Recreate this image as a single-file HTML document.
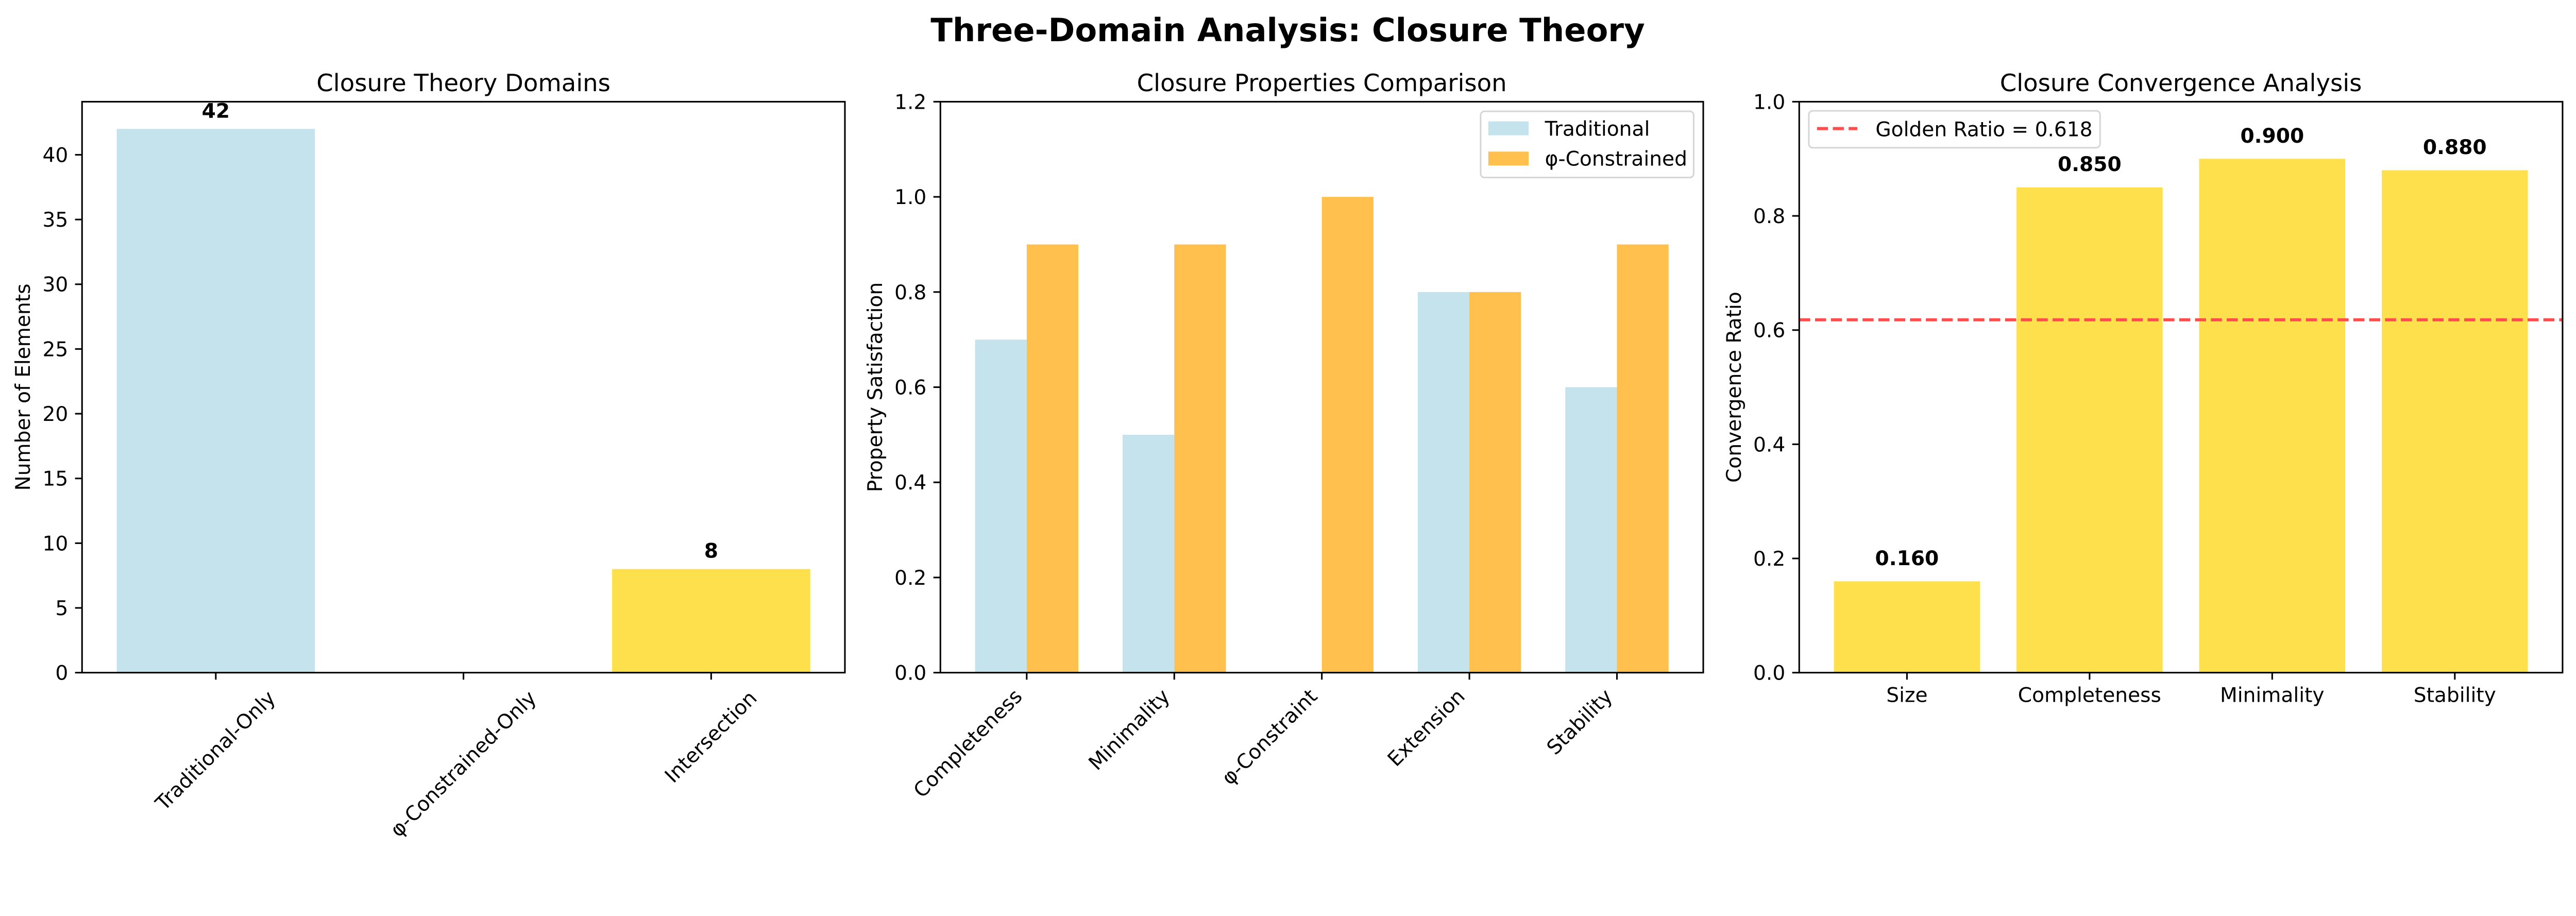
<!DOCTYPE html>
<html><head><meta charset="utf-8"><style>
html,body{margin:0;padding:0;background:#fff;overflow:hidden;}
svg{display:block;font-family:"DejaVu Sans","Liberation Sans",sans-serif;width:100vw;height:auto;aspect-ratio:5369/1778;}
</style></head><body>
<svg id="fig" viewBox="0 0 5369 1778" xmlns="http://www.w3.org/2000/svg">
<rect width="5369" height="1778" fill="#fff"/>
<text x="2684" y="86" font-size="67" font-weight="bold" text-anchor="middle">Three-Domain Analysis: Closure Theory</text>
<g id="p1"></g>
<g id="p2"></g>
<g id="p3"></g>
</svg>
<script>
// Panel 1 data
const domainCategories = ["Traditional-Only", "φ-Constrained-Only", "Intersection"];
const domainCounts = [42, 0, 8];
const domainTicks = [0, 5, 10, 15, 20, 25, 30, 35, 40];
// Panel 2 data
const propCategories = ["Completeness", "Minimality", "φ-Constraint", "Extension", "Stability"];
const traditionalValues = [0.7, 0.5, 0.0, 0.8, 0.6];
const phiValues = [0.9, 0.9, 1.0, 0.8, 0.9];
const propTicks = [0, 0.2, 0.4, 0.6, 0.8, 1.0, 1.2];
// Panel 3 data
const convCategories = ["Size", "Completeness", "Minimality", "Stability"];
const convValues = [0.16, 0.85, 0.90, 0.88];
const convTicks = [0, 0.2, 0.4, 0.6, 0.8, 1.0];
const goldenRatio = 0.618;

const NS = "http://www.w3.org/2000/svg";
const TOP = 212, BOT = 1402, FS = 42;
function mk(parent, tag, attrs, text) {
  const e = document.createElementNS(NS, tag);
  for (const k in attrs) e.setAttribute(k, attrs[k]);
  if (text !== undefined) e.textContent = text;
  parent.appendChild(e);
  return e;
}
function axes(g, L, R, ymax, ticks, fmt, title, ylabel, ylabX, xmin, xmax) {
  const sx = v => L + (v - xmin) / (xmax - xmin) * (R - L);
  const sy = v => BOT - v / ymax * (BOT - TOP);
  const t = mk(g, "text", {x: (L + R) / 2, y: 190, "font-size": 50, "text-anchor": "middle"}, title);
  
  
  const yl = mk(g, "text", {x: ylabX, y: (TOP + BOT) / 2, "font-size": FS, "text-anchor": "middle", "dominant-baseline": "central", transform: `rotate(-90 ${ylabX} ${(TOP + BOT) / 2})`}, ylabel);
  
  
  ticks.forEach(v => {
    const y = sy(v);
    const tk = mk(g, "line", {x1: L - 14.6, x2: L, y1: y, y2: y, stroke: "#000", "stroke-width": 3.3});
    
    
    const tl = mk(g, "text", {x: L - 29, y: y + 15, "font-size": FS, "text-anchor": "end"}, fmt(v));
    
    
  });
  return {sx, sy};
}
function frame(g, L, R) {
  const f = mk(g, "rect", {x: L, y: TOP, width: R - L, height: BOT - TOP, fill: "none", stroke: "#000", "stroke-width": 3.3});
  
  
}
function xtick(g, x) {
  const tk = mk(g, "line", {x1: x, x2: x, y1: BOT, y2: BOT + 14.6, stroke: "#000", "stroke-width": 3.3});
  
  
}

// ---------- Panel 1 ----------
(function () {
  const g = document.getElementById("p1");
  const L = 171, R = 1761;
  const {sx, sy} = axes(g, L, R, 44.1, domainTicks, v => String(v), "Closure Theory Domains", "Number of Elements", 49, -0.54, 2.54);
  const colors = ["#C5E3EC", "#FFC04D", "#FEE04C"];
  domainCategories.forEach((c, i) => {
    const v = domainCounts[i];
    const b = mk(g, "rect", {x: sx(i - 0.4), y: sy(v), width: sx(i + 0.4) - sx(i - 0.4), height: BOT - sy(v), fill: colors[i]});
    
    
    if (v > 0) {
      const vl = mk(g, "text", {x: sx(i), y: sy(v + 0.5) - 10, "font-size": FS, "font-weight": "bold", "text-anchor": "middle"}, String(v));
      
      
    }
    xtick(g, sx(i));
    const lab = mk(g, "text", {"font-size": FS, "text-anchor": "middle", "dominant-baseline": "central"}, c);
    
    
    const len = lab.getComputedTextLength();
    const H = (len + 48) * 0.7071;
    const cx = sx(i), cy = BOT + 29 + H / 2;
    lab.setAttribute("x", cx); lab.setAttribute("y", cy);
    lab.setAttribute("transform", `rotate(-45 ${cx} ${cy})`);
  });
  frame(g, L, R);
})();

// ---------- Panel 2 ----------
(function () {
  const g = document.getElementById("p2");
  const L = 1960, R = 3550, w = 0.35;
  const {sx, sy} = axes(g, L, R, 1.2, propTicks, v => v.toFixed(1), "Closure Properties Comparison", "Property Satisfaction", 1825, -0.585, 4.585);
  propCategories.forEach((c, i) => {
    const a = traditionalValues[i], p = phiValues[i];
    const b1 = mk(g, "rect", {x: sx(i - w), y: sy(a), width: sx(i) - sx(i - w), height: BOT - sy(a), fill: "#C5E3EC"});
    
    
    const b2 = mk(g, "rect", {x: sx(i), y: sy(p), width: sx(i + w) - sx(i), height: BOT - sy(p), fill: "#FFC04D"});
    
    
    xtick(g, sx(i));
    const ax = sx(i) - 7, ay = BOT + 52;
    const lab = mk(g, "text", {x: ax, y: ay, "font-size": FS, "text-anchor": "end", transform: `rotate(-45 ${ax} ${ay})`}, c);
    
    
  });
  frame(g, L, R);
  const lg = mk(g, "g", {});
  
  
  mk(lg, "rect", {x: 3086, y: 232, width: 444, height: 138, rx: 8, fill: "#fff", stroke: "#d6d6d6", "stroke-width": 3.3});
  const e1 = mk(lg, "rect", {x: 3102, y: 253, width: 84, height: 29, fill: "#C5E3EC"});
  
  
  mk(lg, "text", {x: 3220, y: 283, "font-size": FS}, "Traditional");
  const e2 = mk(lg, "rect", {x: 3102, y: 316, width: 84, height: 29, fill: "#FFC04D"});
  
  
  mk(lg, "text", {x: 3220, y: 345, "font-size": FS}, "φ-Constrained");
})();

// ---------- Panel 3 ----------
(function () {
  const g = document.getElementById("p3");
  const L = 3750, R = 5341;
  const {sx, sy} = axes(g, L, R, 1.0, convTicks, v => v.toFixed(1), "Closure Convergence Analysis", "Convergence Ratio", 3615, -0.59, 3.59);
  convCategories.forEach((c, i) => {
    const v = convValues[i];
    const b = mk(g, "rect", {x: sx(i - 0.4), y: sy(v), width: sx(i + 0.4) - sx(i - 0.4), height: BOT - sy(v), fill: "#FEE04C"});
    
    
    const vl = mk(g, "text", {x: sx(i), y: sy(v + 0.02) - 10, "font-size": FS, "font-weight": "bold", "text-anchor": "middle"}, v.toFixed(3));
    
    
    xtick(g, sx(i));
    const lab = mk(g, "text", {x: sx(i), y: BOT + 61, "font-size": FS, "text-anchor": "middle"}, c);
    
    
  });
  const gl = mk(g, "line", {x1: L, x2: R, y1: sy(goldenRatio), y2: sy(goldenRatio), stroke: "#FF4D4D", "stroke-width": 6.5, "stroke-dasharray": "23 10"});
  
  
  frame(g, L, R);
  const lg = mk(g, "g", {});
  
  
  mk(lg, "rect", {x: 3770, y: 231, width: 607, height: 77, rx: 8, fill: "#fff", stroke: "#d6d6d6", "stroke-width": 3.3});
  const e = mk(lg, "line", {x1: 3787, x2: 3871, y1: 268, y2: 268, stroke: "#FF4D4D", "stroke-width": 6.5, "stroke-dasharray": "23 10"});
  
  
  mk(lg, "text", {x: 3909, y: 284, "font-size": FS}, "Golden Ratio = 0.618");
})();
</script>
</body></html>
